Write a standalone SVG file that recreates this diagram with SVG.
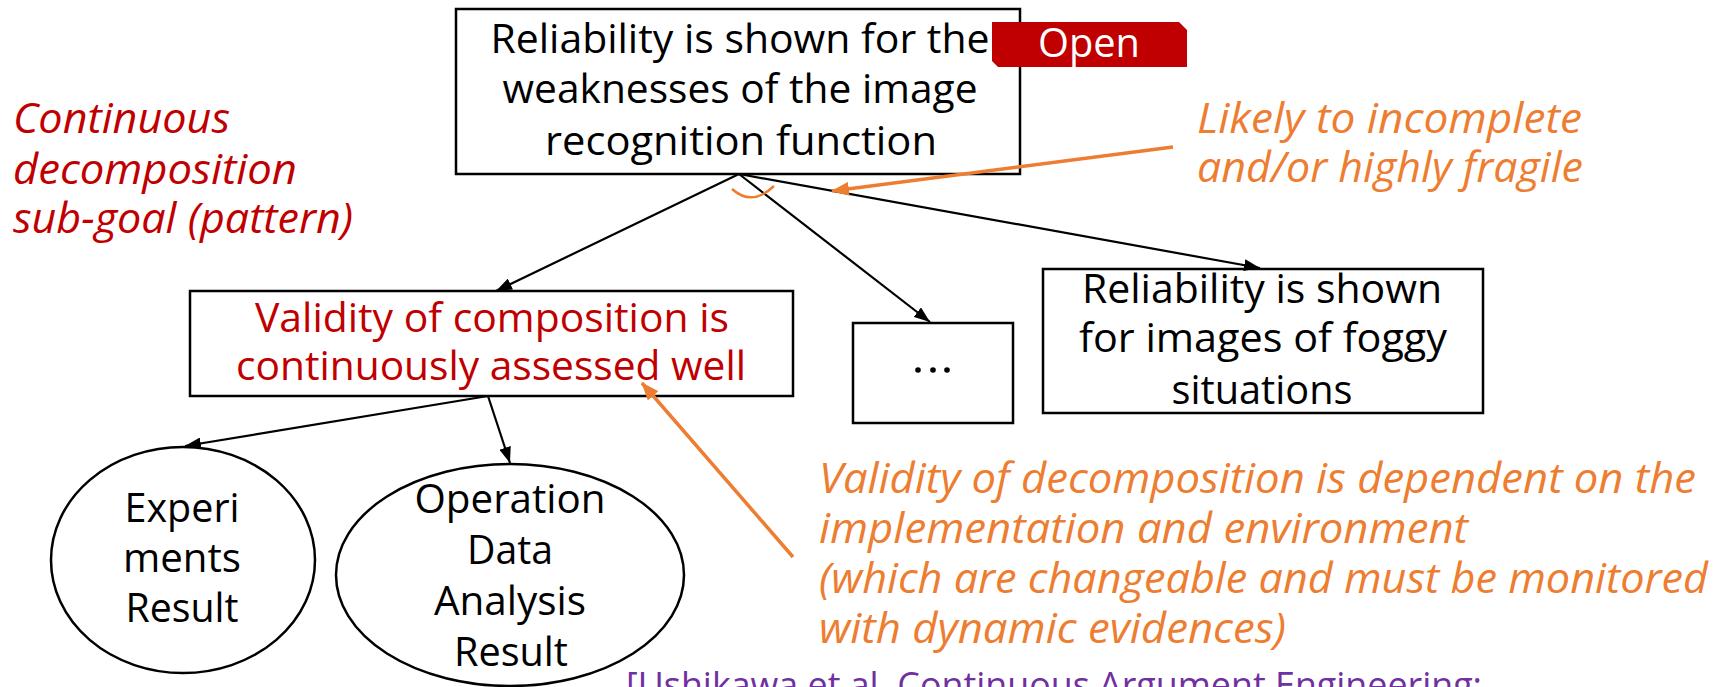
<svg xmlns="http://www.w3.org/2000/svg" width="1731" height="687" viewBox="0 0 1731 687">
<defs>
<style>
.box{fill:#fff;stroke:#000;stroke-width:2.5}
.node{font-family:"Open Sans","Liberation Sans",Arial,sans-serif;font-size:40px;fill:#000}
.redn{fill:#C00000}
.ann{font-family:"Open Sans","Liberation Sans",Arial,sans-serif;font-size:42px;font-style:italic}
.red{fill:#C00000}
.orange{fill:#ED7D31}
.cite{font-family:"Open Sans","Liberation Sans",Arial,sans-serif;font-size:37px;fill:#7030A0}
.conn{stroke:#000;stroke-width:2.2;fill:none}
.oconn{stroke:#ED7D31;stroke-width:3.5;fill:none}
</style>
<marker id="ah" viewBox="0 0 16 12" refX="16" refY="6" markerWidth="16" markerHeight="12" markerUnits="userSpaceOnUse" orient="auto">
<path d="M0,0 L16,6 L0,12 z" fill="#000"/>
</marker>
<marker id="oah" viewBox="0 0 18 14" refX="17" refY="7" markerWidth="18" markerHeight="14" markerUnits="userSpaceOnUse" orient="auto">
<path d="M0,0 L18,7 L0,14 z" fill="#ED7D31"/>
</marker>
</defs>

<g id="top-goal">
<rect class="box" x="456" y="9" width="564" height="165"/>
<text class="node" x="740" y="53" text-anchor="middle" textLength="499" lengthAdjust="spacingAndGlyphs">Reliability is shown for the</text>
<text class="node" x="740" y="103" text-anchor="middle" textLength="475" lengthAdjust="spacingAndGlyphs">weaknesses of the image</text>
<text class="node" x="741" y="155" text-anchor="middle" textLength="392" lengthAdjust="spacingAndGlyphs">recognition function</text>
</g>

<g id="open-tag">
<polygon points="992,22 1179,22 1187,30 1187,67 998,67 992,61" fill="#C00000"/>
<text x="1089" y="57" text-anchor="middle" font-family="Open Sans, Liberation Sans, Arial, sans-serif" font-size="40" fill="#fff" textLength="102" lengthAdjust="spacingAndGlyphs">Open</text>
</g>

<g id="validity-goal">
<rect class="box" x="190" y="291" width="603" height="105"/>
<text class="node redn" x="492" y="332" text-anchor="middle" textLength="474" lengthAdjust="spacingAndGlyphs">Validity of composition is</text>
<text class="node redn" x="491" y="380" text-anchor="middle" textLength="510" lengthAdjust="spacingAndGlyphs">continuously assessed well</text>
</g>

<g id="dots-goal">
<rect class="box" x="853" y="323" width="160" height="100"/>
<circle cx="918" cy="370" r="2.8" fill="#000"/>
<circle cx="933" cy="370" r="2.8" fill="#000"/>
<circle cx="947" cy="370" r="2.8" fill="#000"/>
</g>

<g id="foggy-goal">
<rect class="box" x="1043" y="269" width="440" height="144"/>
<text class="node" x="1262" y="303" text-anchor="middle" textLength="360" lengthAdjust="spacingAndGlyphs">Reliability is shown</text>
<text class="node" x="1263" y="352" text-anchor="middle" textLength="368" lengthAdjust="spacingAndGlyphs">for images of foggy</text>
<text class="node" x="1262" y="404" text-anchor="middle" textLength="181" lengthAdjust="spacingAndGlyphs">situations</text>
</g>

<g id="experiments-evidence">
<ellipse class="box" cx="183" cy="560" rx="132" ry="113"/>
<text class="node" x="182" y="522" text-anchor="middle" textLength="115" lengthAdjust="spacingAndGlyphs">Experi</text>
<text class="node" x="182" y="572" text-anchor="middle" textLength="118" lengthAdjust="spacingAndGlyphs">ments</text>
<text class="node" x="182" y="622" text-anchor="middle" textLength="113" lengthAdjust="spacingAndGlyphs">Result</text>
</g>

<g id="operation-evidence">
<ellipse class="box" cx="510" cy="575" rx="174" ry="111"/>
<text class="node" x="510" y="513" text-anchor="middle" textLength="191" lengthAdjust="spacingAndGlyphs">Operation</text>
<text class="node" x="510" y="564" text-anchor="middle" textLength="86" lengthAdjust="spacingAndGlyphs">Data</text>
<text class="node" x="510" y="615" text-anchor="middle" textLength="152" lengthAdjust="spacingAndGlyphs">Analysis</text>
<text class="node" x="511" y="666" text-anchor="middle" textLength="114" lengthAdjust="spacingAndGlyphs">Result</text>
</g>

<g id="connectors">
<line class="conn" x1="739" y1="174" x2="496" y2="291" marker-end="url(#ah)"/>
<line class="conn" x1="739" y1="174" x2="930" y2="322" marker-end="url(#ah)"/>
<line class="conn" x1="739" y1="174" x2="1260" y2="268" marker-end="url(#ah)"/>
<line class="conn" x1="488" y1="396" x2="185" y2="446" marker-end="url(#ah)"/>
<line class="conn" x1="488" y1="396" x2="510" y2="463" marker-end="url(#ah)"/>
<path d="M732,189 Q752,207 774,186" stroke="#ED7D31" stroke-width="2.5" fill="none"/>
<line class="oconn" x1="1173" y1="147" x2="832" y2="191" marker-end="url(#oah)"/>
<line class="oconn" x1="793" y1="557" x2="642" y2="383" marker-end="url(#oah)"/>
</g>

<g id="annotations">
<text class="ann red" x="13" y="133" textLength="217" lengthAdjust="spacingAndGlyphs">Continuous</text>
<text class="ann red" x="13" y="184" textLength="284" lengthAdjust="spacingAndGlyphs">decomposition</text>
<text class="ann red" x="13" y="233" textLength="340" lengthAdjust="spacingAndGlyphs">sub-goal (pattern)</text>
<text class="ann orange" x="1197" y="133" textLength="385" lengthAdjust="spacingAndGlyphs">Likely to incomplete</text>
<text class="ann orange" x="1197" y="182" textLength="386" lengthAdjust="spacingAndGlyphs">and/or highly fragile</text>
<text class="ann orange" x="819" y="493" textLength="877" lengthAdjust="spacingAndGlyphs">Validity of decomposition is dependent on the</text>
<text class="ann orange" x="819" y="543" textLength="649" lengthAdjust="spacingAndGlyphs">implementation and environment</text>
<text class="ann orange" x="819" y="593" textLength="889" lengthAdjust="spacingAndGlyphs">(which are changeable and must be monitored</text>
<text class="ann orange" x="819" y="643" textLength="467" lengthAdjust="spacingAndGlyphs">with dynamic evidences)</text>
<text class="cite" x="626" y="698" textLength="856" lengthAdjust="spacingAndGlyphs">[Ushikawa et al. Continuous Argument Engineering:</text>
</g>
</svg>
